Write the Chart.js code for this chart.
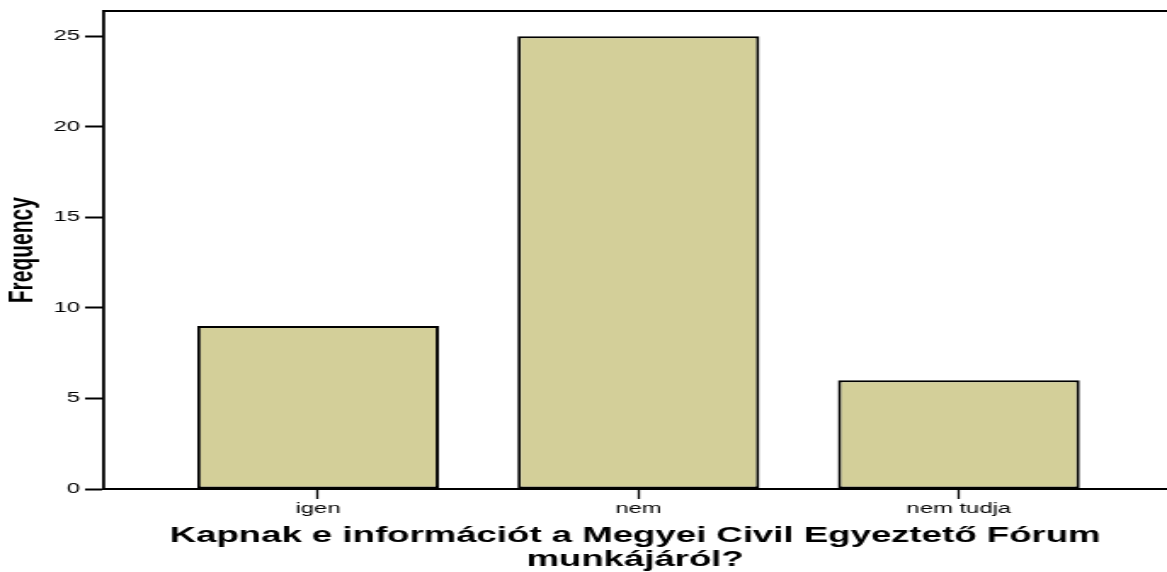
<!DOCTYPE html>
<html>
<head>
<meta charset="utf-8">
<script src="https://cdn.jsdelivr.net/npm/chart.js@4/dist/chart.umd.min.js"></script>
<style>
  html, body { margin: 0; padding: 0; background: #fff; overflow: hidden; }
  /* the reference is a horizontally stretched export, so draw narrow and stretch */
  #wrap { width: 686px; height: 572px; position: relative; transform: scaleX(1.7012); transform-origin: 0 0; }
</style>
</head>
<body>
<div id="wrap"><canvas id="freqChart"></canvas></div>
<script>
// data
const categories = ['igen', 'nem', 'nem tudja'];
const frequencies = [9, 25, 6];
const yTicks = [0, 5, 10, 15, 20, 25];
const xTitle = ['Kapnak e információt a Megyei Civil Egyeztető Fórum', 'munkájáról?'];
const yTitle = 'Frequency';

const points = categories.map((c, i) => ({ x: i + 1, y: frequencies[i] }));
const font = 'Liberation Sans, Arial, sans-serif';

const ctx = document.getElementById('freqChart').getContext('2d');
new Chart(ctx, {
  type: 'bar',
  data: {
    datasets: [
      {
        label: yTitle,
        data: points,
        backgroundColor: '#d3cf99',
        borderColor: '#000',
        borderWidth: 2,
        borderSkipped: false,
        categoryPercentage: 1,
        barPercentage: 0.755
      }
    ]
  },
  options: {
    responsive: true,
    maintainAspectRatio: false,
    animation: false,
    layout: { padding: 0 },
    plugins: {
      legend: { display: false },
      tooltip: { enabled: false }
    },
    scales: {
      x: {
        type: 'linear',
        position: 'bottom',
        offset: false,
        min: 0.329,
        max: 3.65,
        afterBuildTicks: (s) => { s.ticks = categories.map((c, i) => ({ value: i + 1 })); },
        afterFit: (s) => { s.height = 83; },
        ticks: {
          color: '#000',
          padding: 2,
          font: { family: font, size: 14 },
          callback: (v) => categories[v - 1]
        },
        grid: {
          display: true,
          offset: false,
          drawOnChartArea: false,
          drawTicks: true,
          tickLength: 10,
          tickColor: '#000',
          tickWidth: 1.3
        },
        border: { display: true, color: '#000', width: 2 },
        title: {
          display: true,
          text: xTitle,
          color: '#000',
          padding: { top: 0, bottom: 0 },
          font: { family: font, size: 21.5, weight: 'bold', lineHeight: 1.1 }
        }
      },
      x2: {
        type: 'linear',
        position: 'top',
        min: 0,
        max: 1,
        afterFit: (s) => { s.height = 7; },
        ticks: { display: false },
        grid: { display: false, drawTicks: false },
        border: { display: true, color: '#000', width: 2 }
      },
      y: {
        min: 0,
        max: 26.37,
        afterBuildTicks: (s) => { s.ticks = yTicks.map(v => ({ value: v })); },
        afterFit: (s) => { s.width = 60.6; },
        ticks: {
          color: '#000',
          padding: 3,
          font: { family: font, size: 14 }
        },
        grid: {
          display: true,
          drawOnChartArea: false,
          drawTicks: true,
          tickLength: 10.6,
          tickColor: '#000',
          tickWidth: 2
        },
        border: { display: true, color: '#000', width: 1.8 },
        title: {
          display: true,
          text: yTitle,
          color: '#000',
          padding: { top: 0.5, bottom: 0 },
          font: { family: font, size: 21, weight: 'bold' }
        }
      }
    }
  }
});
</script>
</body>
</html>
